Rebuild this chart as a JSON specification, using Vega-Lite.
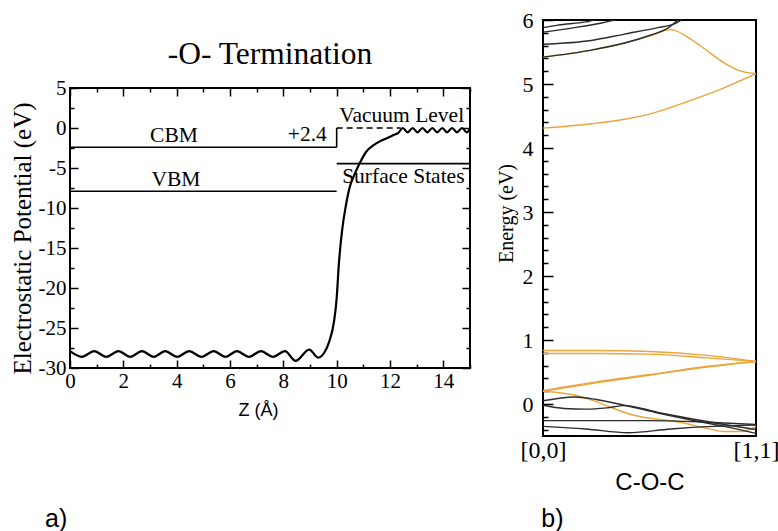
{
  "$schema": "https://vega.github.io/schema/vega-lite/v6.json",
  "background": "white",
  "padding": {"left": 9, "top": 8, "right": 5, "bottom": 0},
  "spacing": 73,
  "bounds": "flush",
  "center": true,
  "config": {
    "view": {"stroke": "#000", "strokeWidth": 2},
    "axis": {"domain": false, "grid": false, "labelFont": "Liberation Serif", "titleFont": "Liberation Serif", "labelColor": "#000", "titleColor": "#000", "tickColor": "#000", "titleFontWeight": "normal", "labelFlush": false, "labelBound": false, "labelOverlap": false}
  },
  "hconcat": [
    {
      "width": 400,
      "height": 280,
      "title": {"text": "-O- Termination", "font": "Liberation Serif", "fontSize": 31.5, "fontWeight": "normal", "offset": 7, "anchor": "middle", "frame": "group", "color": "#000"},
      "resolve": {"axis": {"x": "independent", "y": "independent"}},
      "layer": [
        {
          "data": {"values": [
            {"x": 0, "x2": 10, "y": -2.4, "y2": -2.4},
            {"x": 10, "x2": 10, "y": -2.4, "y2": 0},
            {"x": 0, "x2": 10, "y": -7.9, "y2": -7.9},
            {"x": 10, "x2": 15, "y": -4.45, "y2": -4.45}
          ]},
          "mark": {"type": "rule", "color": "#000", "strokeWidth": 1.6},
          "encoding": {
            "x": {"field": "x", "type": "quantitative", "scale": {"domain": [0, 15], "nice": false},
              "axis": {"orient": "bottom", "values": [0,1,2,3,4,5,6,7,8,9,10,11,12,13,14,15],
                "labelExpr": "datum.value % 2 === 0 && datum.value < 15 ? '' + datum.value : ''",
                "tickSize": {"condition": {"test": "datum.value % 2 === 0", "value": -8}, "value": -4},
                "tickWidth": 1.5, "labelFontSize": 21, "labelPadding": 10,
                "title": "Z (Å)", "titleFont": "Liberation Sans", "titleFontSize": 18, "titlePadding": 6, "titleX": 188}},
            "x2": {"field": "x2"},
            "y": {"field": "y", "type": "quantitative", "scale": {"domain": [-30, 5], "nice": false},
              "axis": {"orient": "left", "values": [-30,-27.5,-25,-22.5,-20,-17.5,-15,-12.5,-10,-7.5,-5,-2.5,0,2.5,5],
                "labelExpr": "datum.value % 5 === 0 ? '' + datum.value : ''",
                "tickSize": {"condition": {"test": "datum.value % 5 === 0", "value": -8}, "value": -4},
                "tickWidth": 1.5, "labelFontSize": 21, "labelPadding": 12,
                "title": "Electrostatic Potential (eV)", "titleFontSize": 25, "titlePadding": 3, "titleY": 150}},
            "y2": {"field": "y2"}
          }
        },
        {
          "data": {"values": [{"x": 10, "x2": 12.4, "y": 0, "y2": 0}]},
          "mark": {"type": "rule", "color": "#000", "strokeWidth": 1.6, "strokeDash": [6, 4]},
          "encoding": {
            "x": {"field": "x", "type": "quantitative",
              "axis": {"orient": "top", "values": [0,1,2,3,4,5,6,7,8,9,10,11,12,13,14,15], "labels": false, "title": null,
                "tickSize": {"condition": {"test": "datum.value % 2 === 0", "value": -8}, "value": -4}, "tickWidth": 1.5}},
            "x2": {"field": "x2"},
            "y": {"field": "y", "type": "quantitative",
              "axis": {"orient": "right", "values": [-30,-27.5,-25,-22.5,-20,-17.5,-15,-12.5,-10,-7.5,-5,-2.5,0,2.5,5], "labels": false, "title": null,
                "tickSize": {"condition": {"test": "datum.value % 5 === 0", "value": -8}, "value": -4}, "tickWidth": 1.5}},
            "y2": {"field": "y2"}
          }
        },
        {
          "data": {"values": [
            {"z": 0, "v": -27.9}, {"z": 0.44, "v": -28.6}, {"z": 0.91, "v": -27.9}, {"z": 1.36, "v": -28.6},
            {"z": 1.82, "v": -27.9}, {"z": 2.26, "v": -28.6}, {"z": 2.7, "v": -27.9}, {"z": 3.14, "v": -28.6},
            {"z": 3.57, "v": -27.9}, {"z": 4.02, "v": -28.6}, {"z": 4.47, "v": -27.9}, {"z": 4.93, "v": -28.6},
            {"z": 5.39, "v": -27.9}, {"z": 5.83, "v": -28.6}, {"z": 6.26, "v": -27.9}, {"z": 6.71, "v": -28.6},
            {"z": 7.16, "v": -27.9}, {"z": 7.61, "v": -28.6}, {"z": 8.06, "v": -27.9}, {"z": 8.46, "v": -29.1},
            {"z": 8.97, "v": -27.7}, {"z": 9.31, "v": -28.7}, {"z": 9.55, "v": -28.0}, {"z": 9.72, "v": -26.7},
            {"z": 9.9, "v": -24.2}, {"z": 10.0, "v": -21.3}, {"z": 10.08, "v": -17.1}, {"z": 10.2, "v": -12.9},
            {"z": 10.35, "v": -9.6}, {"z": 10.48, "v": -7.5}, {"z": 10.67, "v": -5.8}, {"z": 10.85, "v": -4.5},
            {"z": 11.1, "v": -3.0}, {"z": 11.4, "v": -2.1}, {"z": 11.6, "v": -1.7}, {"z": 11.9, "v": -1.25},
            {"z": 12.16, "v": -0.85}, {"z": 12.3, "v": -0.65}, {"z": 12.48, "v": 0.0}, {"z": 12.66, "v": -0.55},
            {"z": 12.85, "v": 0.0}, {"z": 13.03, "v": -0.55}, {"z": 13.22, "v": 0.0}, {"z": 13.4, "v": -0.55},
            {"z": 13.59, "v": 0.0}, {"z": 13.77, "v": -0.55}, {"z": 13.96, "v": 0.0}, {"z": 14.14, "v": -0.55},
            {"z": 14.33, "v": 0.0}, {"z": 14.51, "v": -0.55}, {"z": 14.7, "v": 0.0}, {"z": 14.88, "v": -0.55},
            {"z": 15.0, "v": -0.1}
          ]},
          "mark": {"type": "line", "color": "#000", "strokeWidth": 2.2, "interpolate": "monotone"},
          "encoding": {
            "x": {"field": "z", "type": "quantitative", "axis": null},
            "y": {"field": "v", "type": "quantitative", "axis": null}
          }
        },
        {
          "data": {"values": [
            {"x": 3.9, "y": -1.04, "t": "CBM"},
            {"x": 3.97, "y": -6.54, "t": "VBM"},
            {"x": 8.9, "y": -0.91, "t": "+2.4"},
            {"x": 12.44, "y": 1.46, "t": "Vacuum Level"},
            {"x": 12.5, "y": -6.1, "t": "Surface States"}
          ]},
          "mark": {"type": "text", "font": "Liberation Serif", "fontSize": 21.5, "color": "#000", "baseline": "middle", "align": "center"},
          "encoding": {
            "x": {"field": "x", "type": "quantitative", "axis": null},
            "y": {"field": "y", "type": "quantitative", "axis": null},
            "text": {"field": "t"}
          }
        },
        {
          "data": {"values": [{"x": -0.52, "y": -48.9, "t": "a)"}]},
          "mark": {"type": "text", "font": "Liberation Sans", "fontSize": 25, "color": "#000", "baseline": "middle", "align": "center"},
          "encoding": {
            "x": {"field": "x", "type": "quantitative", "axis": null},
            "y": {"field": "y", "type": "quantitative", "axis": null},
            "text": {"field": "t"}
          }
        }
      ]
    },
    {
      "width": 213,
      "height": 416,
      "resolve": {"axis": {"x": "independent", "y": "independent"}},
      "layer": [
        {
          "data": {"values": [
            {"band": "O1", "kind": "O", "k": 0, "E": 4.31}, {"band": "O1", "kind": "O", "k": 0.227, "E": 4.38}, {"band": "O1", "kind": "O", "k": 0.383, "E": 4.45}, {"band": "O1", "kind": "O", "k": 0.5, "E": 4.53}, {"band": "O1", "kind": "O", "k": 0.69, "E": 4.74}, {"band": "O1", "kind": "O", "k": 0.85, "E": 4.94}, {"band": "O1", "kind": "O", "k": 1, "E": 5.16},
            {"band": "O2", "kind": "O", "k": 0, "E": 5.42}, {"band": "O2", "kind": "O", "k": 0.227, "E": 5.53}, {"band": "O2", "kind": "O", "k": 0.383, "E": 5.64}, {"band": "O2", "kind": "O", "k": 0.51, "E": 5.76}, {"band": "O2", "kind": "O", "k": 0.6, "E": 5.85}, {"band": "O2", "kind": "O", "k": 0.69, "E": 5.71}, {"band": "O2", "kind": "O", "k": 0.77, "E": 5.52}, {"band": "O2", "kind": "O", "k": 0.85, "E": 5.33}, {"band": "O2", "kind": "O", "k": 0.93, "E": 5.2}, {"band": "O2", "kind": "O", "k": 1, "E": 5.16},
            {"band": "O3", "kind": "O", "k": 0, "E": 0.835}, {"band": "O3", "kind": "O", "k": 0.25, "E": 0.835}, {"band": "O3", "kind": "O", "k": 0.5, "E": 0.82}, {"band": "O3", "kind": "O", "k": 0.77, "E": 0.76}, {"band": "O3", "kind": "O", "k": 1, "E": 0.665},
            {"band": "O4", "kind": "O", "k": 0, "E": 0.79}, {"band": "O4", "kind": "O", "k": 0.25, "E": 0.79}, {"band": "O4", "kind": "O", "k": 0.5, "E": 0.78}, {"band": "O4", "kind": "O", "k": 0.77, "E": 0.72}, {"band": "O4", "kind": "O", "k": 1, "E": 0.665},
            {"band": "O5", "kind": "O", "k": 0, "E": 0.2}, {"band": "O5", "kind": "O", "k": 0.25, "E": 0.33}, {"band": "O5", "kind": "O", "k": 0.5, "E": 0.45}, {"band": "O5", "kind": "O", "k": 0.75, "E": 0.57}, {"band": "O5", "kind": "O", "k": 1, "E": 0.665},
            {"band": "O6", "kind": "O", "k": 0, "E": 0.21}, {"band": "O6", "kind": "O", "k": 0.25, "E": 0.345}, {"band": "O6", "kind": "O", "k": 0.5, "E": 0.46}, {"band": "O6", "kind": "O", "k": 0.75, "E": 0.58}, {"band": "O6", "kind": "O", "k": 1, "E": 0.665},
            {"band": "O7", "kind": "O", "k": 0, "E": 0.2}, {"band": "O7", "kind": "O", "k": 0.148, "E": 0.14}, {"band": "O7", "kind": "O", "k": 0.23, "E": 0.06}, {"band": "O7", "kind": "O", "k": 0.31, "E": -0.04}, {"band": "O7", "kind": "O", "k": 0.39, "E": -0.14}, {"band": "O7", "kind": "O", "k": 0.46, "E": -0.2}, {"band": "O7", "kind": "O", "k": 0.62, "E": -0.27}, {"band": "O7", "kind": "O", "k": 0.77, "E": -0.38}, {"band": "O7", "kind": "O", "k": 0.85, "E": -0.43}, {"band": "O7", "kind": "O", "k": 0.93, "E": -0.43}, {"band": "O7", "kind": "O", "k": 1, "E": -0.35},
            {"band": "C1", "kind": "C", "k": 0, "E": 5.42}, {"band": "C1", "kind": "C", "k": 0.227, "E": 5.53}, {"band": "C1", "kind": "C", "k": 0.383, "E": 5.64}, {"band": "C1", "kind": "C", "k": 0.51, "E": 5.77}, {"band": "C1", "kind": "C", "k": 0.58, "E": 5.86}, {"band": "C1", "kind": "C", "k": 0.64, "E": 6.02},
            {"band": "C2", "kind": "C", "k": 0, "E": 5.62}, {"band": "C2", "kind": "C", "k": 0.226, "E": 5.68}, {"band": "C2", "kind": "C", "k": 0.383, "E": 5.78}, {"band": "C2", "kind": "C", "k": 0.539, "E": 5.88}, {"band": "C2", "kind": "C", "k": 0.617, "E": 5.94}, {"band": "C2", "kind": "C", "k": 0.66, "E": 6.02},
            {"band": "C3", "kind": "C", "k": 0, "E": 5.81}, {"band": "C3", "kind": "C", "k": 0.148, "E": 5.88}, {"band": "C3", "kind": "C", "k": 0.27, "E": 5.95}, {"band": "C3", "kind": "C", "k": 0.36, "E": 6.02},
            {"band": "C4", "kind": "C", "k": 0, "E": 5.88}, {"band": "C4", "kind": "C", "k": 0.07, "E": 5.92}, {"band": "C4", "kind": "C", "k": 0.2, "E": 5.97}, {"band": "C4", "kind": "C", "k": 0.27, "E": 6.02},
            {"band": "C5", "kind": "C", "k": 0, "E": 0.05}, {"band": "C5", "kind": "C", "k": 0.148, "E": 0.11}, {"band": "C5", "kind": "C", "k": 0.25, "E": 0.07}, {"band": "C5", "kind": "C", "k": 0.383, "E": -0.02}, {"band": "C5", "kind": "C", "k": 0.539, "E": -0.14}, {"band": "C5", "kind": "C", "k": 0.695, "E": -0.25}, {"band": "C5", "kind": "C", "k": 0.851, "E": -0.35}, {"band": "C5", "kind": "C", "k": 1, "E": -0.46},
            {"band": "C6", "kind": "C", "k": 0, "E": -0.02}, {"band": "C6", "kind": "C", "k": 0.1, "E": -0.07}, {"band": "C6", "kind": "C", "k": 0.2, "E": -0.08}, {"band": "C6", "kind": "C", "k": 0.3, "E": -0.06}, {"band": "C6", "kind": "C", "k": 0.383, "E": -0.025}, {"band": "C6", "kind": "C", "k": 0.539, "E": -0.13}, {"band": "C6", "kind": "C", "k": 0.695, "E": -0.23}, {"band": "C6", "kind": "C", "k": 0.851, "E": -0.32}, {"band": "C6", "kind": "C", "k": 1, "E": -0.4},
            {"band": "C7", "kind": "C", "k": 0, "E": -0.26}, {"band": "C7", "kind": "C", "k": 0.5, "E": -0.26}, {"band": "C7", "kind": "C", "k": 0.8, "E": -0.29}, {"band": "C7", "kind": "C", "k": 1, "E": -0.32},
            {"band": "C8", "kind": "C", "k": 0, "E": -0.35}, {"band": "C8", "kind": "C", "k": 0.2, "E": -0.39}, {"band": "C8", "kind": "C", "k": 0.4, "E": -0.45}, {"band": "C8", "kind": "C", "k": 0.6, "E": -0.39}, {"band": "C8", "kind": "C", "k": 0.8, "E": -0.35}, {"band": "C8", "kind": "C", "k": 1, "E": -0.33}
          ]},
          "mark": {"type": "line", "interpolate": "monotone", "strokeWidth": 1.4, "clip": true},
          "encoding": {
            "x": {"field": "k", "type": "quantitative", "scale": {"domain": [0, 1], "nice": false},
              "axis": {"values": [0, 1], "labelExpr": "datum.value === 0 ? '[0,0]' : '[1,1]'", "ticks": false, "labelFontSize": 24, "labelPadding": 2,
                "title": "C-O-C", "titleFont": "Liberation Sans", "titleFontSize": 24, "titlePadding": 8}},
            "y": {"field": "E", "type": "quantitative", "scale": {"domain": [-0.5, 6], "nice": false},
              "axis": {"values": [-0.4,-0.2,0,0.2,0.4,0.6,0.8,1,1.2,1.4,1.6,1.8,2,2.2,2.4,2.6,2.8,3,3.2,3.4,3.6,3.8,4,4.2,4.4,4.6,4.8,5,5.2,5.4,5.6,5.8,6],
                "labelExpr": "abs(datum.value - round(datum.value)) < 0.001 ? '' + round(datum.value) : ''",
                "tickSize": {"condition": {"test": "abs(datum.value - round(datum.value)) < 0.001", "value": -10}, "value": -5},
                "tickWidth": 1.5, "labelFontSize": 22, "labelPadding": 20,
                "title": "Energy (eV)", "titleFontSize": 20, "titlePadding": 6, "titleY": 193}},
            "detail": {"field": "band"},
            "color": {"field": "kind", "type": "nominal", "scale": {"domain": ["O", "C"], "range": ["#EBA53A", "#2b2b2b"]}, "legend": null}
          }
        },
        {
          "data": {"values": [{"k": 0.044, "E": -1.79, "t": "b)"}]},
          "mark": {"type": "text", "font": "Liberation Sans", "fontSize": 25, "color": "#000", "baseline": "middle", "align": "center"},
          "encoding": {
            "x": {"field": "k", "type": "quantitative", "axis": null},
            "y": {"field": "E", "type": "quantitative", "axis": null},
            "text": {"field": "t"}
          }
        }
      ]
    }
  ]
}
